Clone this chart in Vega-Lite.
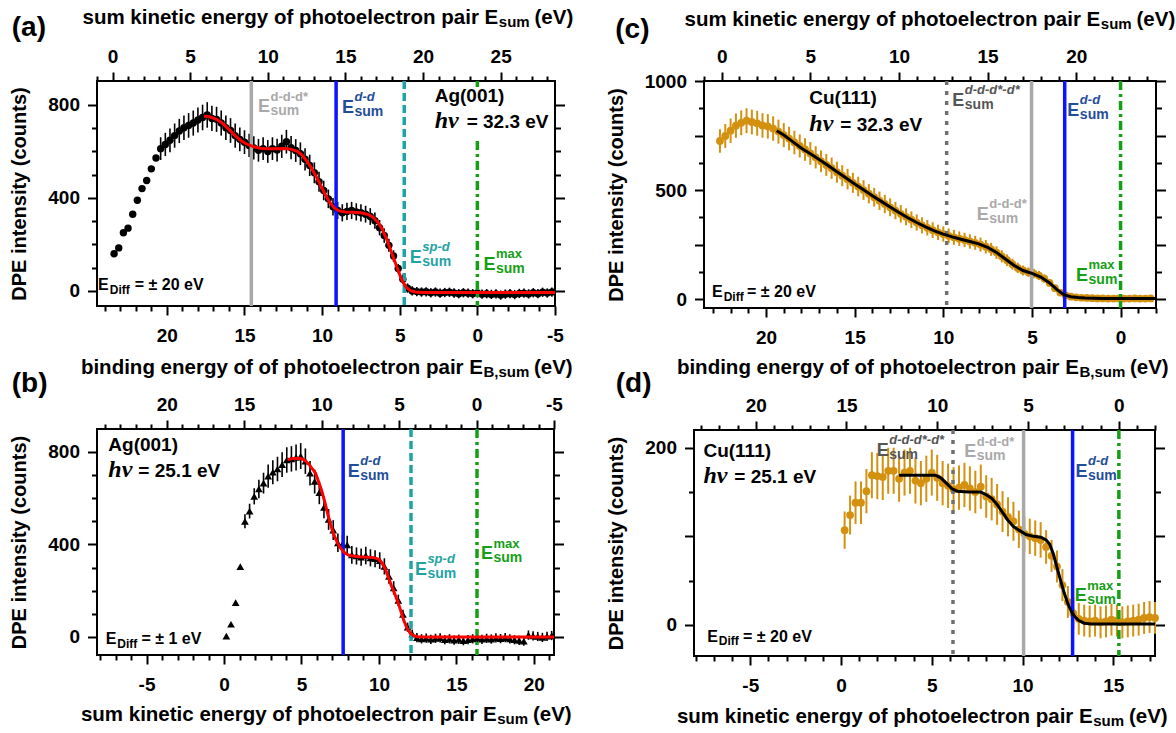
{
"$schema": "https://vega.github.io/schema/vega-lite/v6.json",
"background": "white",
"padding": {"left": 8, "top": 6, "right": 0, "bottom": 0},
"config": {
  "font": "Liberation Sans",
  "view": {"stroke": "black", "strokeWidth": 2},
  "axis": {"domain": false, "grid": false, "labelFont": "Liberation Sans", "labelFontSize": 19, "labelFontWeight": "bold", "labelColor": "black", "tickColor": "black", "tickWidth": 2, "titleFont": "Liberation Sans", "titleFontSize": 20.5, "titleFontWeight": "bold", "titleColor": "black", "labelFlush": false, "labelOverlap": false},
  "title": {"anchor": "start", "frame": "bounds", "font": "Liberation Sans", "fontSize": 28, "fontWeight": "bold", "color": "black", "baseline": "alphabetic"},
  "text": {"font": "Liberation Sans", "fontWeight": "bold", "color": "black", "align": "left", "baseline": "alphabetic"}
},
"datasets": {
  "a_pts": [
    {"x":23.4,"y":160,"e":0},{"x":23.1,"y":185,"e":0},{"x":22.8,"y":250,"e":0},{"x":22.5,"y":270,"e":0},{"x":22.2,"y":330,"e":0},{"x":21.9,"y":390,"e":0},{"x":21.6,"y":440,"e":0},{"x":21.3,"y":475,"e":0},{"x":21.0,"y":525,"e":0},{"x":20.7,"y":572,"e":0},
    {"x":20.4,"y":612,"e":49},{"x":20.1,"y":630,"e":50},{"x":19.8,"y":648,"e":51},{"x":19.5,"y":668,"e":52},{"x":19.2,"y":688,"e":52},{"x":18.9,"y":702,"e":53},{"x":18.6,"y":712,"e":53},{"x":18.3,"y":722,"e":54},{"x":18.0,"y":735,"e":54},{"x":17.7,"y":746,"e":55},
    {"x":17.4,"y":757,"e":55},{"x":17.1,"y":742,"e":54},{"x":16.8,"y":738,"e":54},{"x":16.5,"y":722,"e":54},{"x":16.2,"y":702,"e":53},{"x":15.9,"y":690,"e":53},{"x":15.6,"y":668,"e":52},{"x":15.3,"y":652,"e":51},{"x":15.0,"y":640,"e":51},{"x":14.7,"y":626,"e":50},
    {"x":14.4,"y":615,"e":50},{"x":14.1,"y":605,"e":49},{"x":13.8,"y":612,"e":49},{"x":13.5,"y":600,"e":49},{"x":13.2,"y":612,"e":49},{"x":12.9,"y":606,"e":49},{"x":12.6,"y":622,"e":50},{"x":12.3,"y":642,"e":51},{"x":12.0,"y":616,"e":50},{"x":11.7,"y":604,"e":49},
    {"x":11.4,"y":590,"e":49},{"x":11.1,"y":566,"e":48},{"x":10.8,"y":540,"e":46},{"x":10.5,"y":508,"e":45},{"x":10.2,"y":470,"e":43},{"x":9.9,"y":432,"e":42},{"x":9.6,"y":396,"e":40},{"x":9.3,"y":362,"e":38},{"x":9.0,"y":346,"e":37},{"x":8.7,"y":336,"e":37},
    {"x":8.4,"y":342,"e":37},{"x":8.1,"y":346,"e":37},{"x":7.8,"y":340,"e":37},{"x":7.5,"y":336,"e":37},{"x":7.2,"y":330,"e":36},{"x":6.9,"y":320,"e":36},{"x":6.6,"y":302,"e":35},{"x":6.3,"y":272,"e":33},{"x":6.0,"y":238,"e":31},{"x":5.7,"y":196,"e":28},
    {"x":5.4,"y":150,"e":25},{"x":5.1,"y":96,"e":20},{"x":4.8,"y":50,"e":20},{"x":4.5,"y":12,"e":20},{"x":4.2,"y":0,"e":20},{"x":3.9,"y":-3,"e":20},{"x":3.6,"y":-5,"e":20},{"x":3.3,"y":-4,"e":20},{"x":3.0,"y":-8,"e":20},{"x":2.7,"y":-5,"e":20},
    {"x":2.4,"y":-10,"e":20},{"x":2.1,"y":-7,"e":20},{"x":1.8,"y":-6,"e":20},{"x":1.5,"y":-9,"e":20},{"x":1.2,"y":-12,"e":20},{"x":0.9,"y":-8,"e":20},{"x":0.6,"y":-10,"e":20},{"x":0.3,"y":-12,"e":20},{"x":0.0,"y":-9,"e":20},{"x":-0.3,"y":-14,"e":20},
    {"x":-0.6,"y":-12,"e":20},{"x":-0.9,"y":-15,"e":20},{"x":-1.2,"y":-13,"e":20},{"x":-1.5,"y":-18,"e":20},{"x":-1.8,"y":-14,"e":20},{"x":-2.1,"y":-12,"e":20},{"x":-2.4,"y":-16,"e":20},{"x":-2.7,"y":-11,"e":20},{"x":-3.0,"y":-10,"e":20},{"x":-3.3,"y":-13,"e":20},
    {"x":-3.6,"y":-8,"e":20},{"x":-3.9,"y":-12,"e":20},{"x":-4.2,"y":-6,"e":20},{"x":-4.5,"y":-9,"e":20},{"x":-4.8,"y":-5,"e":20}
  ],
  "a_fit": [
    {"x":17.6,"y":752},{"x":17.2,"y":748},{"x":16.8,"y":738},{"x":16.4,"y":720},{"x":16.0,"y":695},{"x":15.6,"y":668},{"x":15.2,"y":645},{"x":14.8,"y":630},{"x":14.4,"y":620},{"x":14.0,"y":614},
    {"x":13.5,"y":611},{"x":13.0,"y":611},{"x":12.5,"y":613},{"x":12.0,"y":610},{"x":11.6,"y":600},{"x":11.3,"y":585},{"x":11.0,"y":560},{"x":10.7,"y":530},{"x":10.4,"y":495},{"x":10.1,"y":455},
    {"x":9.8,"y":415},{"x":9.5,"y":380},{"x":9.2,"y":356},{"x":8.9,"y":344},{"x":8.5,"y":339},{"x":8.0,"y":338},{"x":7.5,"y":336},{"x":7.0,"y":328},{"x":6.7,"y":316},{"x":6.4,"y":295},
    {"x":6.1,"y":262},{"x":5.8,"y":215},{"x":5.5,"y":160},{"x":5.2,"y":105},{"x":4.9,"y":52},{"x":4.6,"y":16},{"x":4.3,"y":1},{"x":4.0,"y":-5},{"x":3.5,"y":-7},{"x":2.0,"y":-7},{"x":0,"y":-7},{"x":-2,"y":-7},{"x":-5,"y":-7}
  ],
  "a_vl": [{"x":14.56,"k":"ddd"},{"x":9.1,"k":"dd"},{"x":4.71,"k":"sp"},{"x":0,"k":"max"}],
  "a_lab": [{"x":14.13,"y":768,"k":"ddd","s":"d-d-d*"},{"x":8.72,"y":766,"k":"dd","s":"d-d"},{"x":4.35,"y":122,"k":"sp","s":"sp-d"},{"x":-0.39,"y":90,"k":"max","s":"max"}],
  "b_pts": [
    {"x":0.15,"y":4,"e":0},{"x":0.45,"y":55,"e":0},{"x":0.75,"y":148,"e":0},{"x":1.05,"y":304,"e":0},{"x":1.35,"y":500,"e":30},{"x":1.65,"y":544,"e":32},{"x":1.95,"y":608,"e":35},{"x":2.25,"y":640,"e":40},{"x":2.55,"y":665,"e":45},{"x":2.85,"y":695,"e":50},
    {"x":3.15,"y":712,"e":52},{"x":3.45,"y":726,"e":53},{"x":3.75,"y":745,"e":54},{"x":4.05,"y":765,"e":55},{"x":4.35,"y":770,"e":55},{"x":4.65,"y":776,"e":56},{"x":4.95,"y":782,"e":56},{"x":5.25,"y":760,"e":55},{"x":5.55,"y":708,"e":53},{"x":5.85,"y":672,"e":52},
    {"x":6.15,"y":624,"e":50},{"x":6.45,"y":560,"e":47},{"x":6.75,"y":508,"e":45},{"x":7.05,"y":462,"e":43},{"x":7.35,"y":407,"e":40},{"x":7.65,"y":400,"e":40},{"x":7.95,"y":398,"e":40},{"x":8.25,"y":355,"e":38},{"x":8.55,"y":350,"e":37},{"x":8.85,"y":345,"e":37},
    {"x":9.15,"y":352,"e":38},{"x":9.45,"y":342,"e":37},{"x":9.75,"y":338,"e":37},{"x":10.05,"y":330,"e":36},{"x":10.35,"y":305,"e":35},{"x":10.65,"y":262,"e":32},{"x":10.95,"y":212,"e":29},{"x":11.25,"y":158,"e":25},{"x":11.55,"y":98,"e":20},{"x":11.85,"y":42,"e":20},
    {"x":12.15,"y":12,"e":20},{"x":12.45,"y":-3,"e":20},{"x":12.75,"y":-8,"e":20},{"x":13.05,"y":-5,"e":20},{"x":13.35,"y":-10,"e":20},{"x":13.65,"y":-6,"e":20},{"x":13.95,"y":-4,"e":20},{"x":14.25,"y":-12,"e":20},{"x":14.55,"y":-8,"e":20},{"x":14.85,"y":-14,"e":20},
    {"x":15.15,"y":-10,"e":20},{"x":15.45,"y":-16,"e":20},{"x":15.75,"y":-12,"e":20},{"x":16.05,"y":-8,"e":20},{"x":16.35,"y":-5,"e":20},{"x":16.65,"y":-10,"e":20},{"x":16.95,"y":-6,"e":20},{"x":17.25,"y":-9,"e":20},{"x":17.55,"y":-4,"e":20},{"x":17.85,"y":-7,"e":20},
    {"x":18.15,"y":-3,"e":20},{"x":18.45,"y":-8,"e":20},{"x":18.75,"y":-12,"e":20},{"x":19.05,"y":-15,"e":20},{"x":19.35,"y":-18,"e":20},{"x":19.65,"y":8,"e":20},{"x":19.95,"y":5,"e":20},{"x":20.25,"y":2,"e":20},{"x":20.55,"y":-2,"e":20},{"x":20.85,"y":3,"e":20},{"x":21.15,"y":6,"e":20}
  ],
  "b_fit": [
    {"x":4.1,"y":767},{"x":4.5,"y":772},{"x":4.9,"y":773},{"x":5.2,"y":765},{"x":5.5,"y":745},{"x":5.7,"y":727},{"x":5.9,"y":709},{"x":6.1,"y":672},{"x":6.3,"y":633},{"x":6.5,"y":585},
    {"x":6.7,"y":530},{"x":6.9,"y":480},{"x":7.1,"y":440},{"x":7.3,"y":410},{"x":7.5,"y":386},{"x":7.8,"y":363},{"x":8.1,"y":352},{"x":8.7,"y":347},{"x":9.7,"y":343},{"x":10.0,"y":335},
    {"x":10.2,"y":320},{"x":10.4,"y":295},{"x":10.6,"y":260},{"x":10.8,"y":222},{"x":11.0,"y":190},{"x":11.2,"y":155},{"x":11.4,"y":115},{"x":11.6,"y":72},{"x":11.8,"y":40},{"x":12.0,"y":18},
    {"x":12.2,"y":7},{"x":12.5,"y":1},{"x":13.0,"y":0},{"x":21.3,"y":0}
  ],
  "b_vl": [{"x":7.69,"k":"dd"},{"x":12.07,"k":"sp"},{"x":16.33,"k":"max"}],
  "b_lab": [{"x":7.98,"y":692,"k":"dd","s":"d-d"},{"x":12.32,"y":270,"k":"sp","s":"sp-d"},{"x":16.58,"y":335,"k":"max","s":"max"}],
  "c_pts": [
    {"x":22.6,"y":725,"e":54},{"x":22.3,"y":748,"e":55},{"x":22.0,"y":772,"e":56},{"x":21.7,"y":795,"e":56},{"x":21.4,"y":808,"e":57},{"x":21.1,"y":818,"e":57},{"x":20.8,"y":812,"e":57},{"x":20.5,"y":806,"e":57},{"x":20.2,"y":796,"e":56},{"x":19.9,"y":792,"e":56},
    {"x":19.6,"y":782,"e":56},{"x":19.3,"y":768,"e":55},{"x":19.0,"y":752,"e":55},{"x":18.7,"y":736,"e":54},{"x":18.4,"y":718,"e":54},{"x":18.1,"y":702,"e":53},{"x":17.8,"y":686,"e":52},{"x":17.5,"y":668,"e":52},{"x":17.2,"y":650,"e":51},{"x":16.9,"y":632,"e":50},
    {"x":16.6,"y":615,"e":50},{"x":16.3,"y":600,"e":49},{"x":16.0,"y":582,"e":48},{"x":15.7,"y":566,"e":48},{"x":15.4,"y":550,"e":47},{"x":15.1,"y":533,"e":46},{"x":14.8,"y":516,"e":45},{"x":14.5,"y":500,"e":45},{"x":14.2,"y":483,"e":44},{"x":13.9,"y":467,"e":43},
    {"x":13.6,"y":451,"e":42},{"x":13.3,"y":436,"e":42},{"x":13.0,"y":421,"e":41},{"x":12.7,"y":406,"e":40},{"x":12.4,"y":391,"e":40},{"x":12.1,"y":377,"e":39},{"x":11.8,"y":364,"e":38},{"x":11.5,"y":351,"e":37},{"x":11.2,"y":338,"e":37},{"x":10.9,"y":327,"e":36},
    {"x":10.6,"y":316,"e":36},{"x":10.3,"y":306,"e":35},{"x":10.0,"y":298,"e":35},{"x":9.7,"y":290,"e":34},{"x":9.4,"y":283,"e":34},{"x":9.1,"y":277,"e":33},{"x":8.8,"y":271,"e":33},{"x":8.5,"y":264,"e":33},{"x":8.2,"y":258,"e":32},{"x":7.9,"y":250,"e":32},
    {"x":7.6,"y":240,"e":31},{"x":7.3,"y":228,"e":30},{"x":7.0,"y":213,"e":29},{"x":6.7,"y":196,"e":28},{"x":6.4,"y":178,"e":27},{"x":6.1,"y":160,"e":25},{"x":5.8,"y":143,"e":24},{"x":5.5,"y":131,"e":23},{"x":5.2,"y":123,"e":22},{"x":4.9,"y":117,"e":22},
    {"x":4.6,"y":108,"e":21},{"x":4.3,"y":94,"e":19},{"x":4.0,"y":74,"e":17},{"x":3.7,"y":50,"e":15},{"x":3.4,"y":30,"e":15},{"x":3.1,"y":17,"e":15},{"x":2.8,"y":11,"e":15},{"x":2.5,"y":8,"e":15},{"x":2.2,"y":6,"e":15},{"x":1.9,"y":5,"e":15},
    {"x":1.6,"y":4,"e":15},{"x":1.3,"y":3,"e":15},{"x":1.0,"y":3,"e":15},{"x":0.7,"y":2,"e":15},{"x":0.4,"y":2,"e":15},{"x":0.1,"y":3,"e":15},{"x":-0.2,"y":2,"e":15},{"x":-0.5,"y":2,"e":15},{"x":-0.8,"y":3,"e":15},{"x":-1.1,"y":2,"e":15},
    {"x":-1.4,"y":2,"e":15},{"x":-1.7,"y":3,"e":15}
  ],
  "c_fit": [
    {"x":19.4,"y":772},{"x":19.0,"y":752},{"x":18.5,"y":722},{"x":18.0,"y":692},{"x":17.5,"y":666},{"x":17.0,"y":640},{"x":16.5,"y":612},{"x":16.0,"y":584},{"x":15.5,"y":556},{"x":15.0,"y":528},
    {"x":14.5,"y":501},{"x":14.0,"y":474},{"x":13.5,"y":448},{"x":13.0,"y":422},{"x":12.5,"y":397},{"x":12.0,"y":373},{"x":11.5,"y":351},{"x":11.0,"y":331},{"x":10.5,"y":313},{"x":10.0,"y":298},
    {"x":9.5,"y":285},{"x":9.0,"y":274},{"x":8.5,"y":264},{"x":8.0,"y":253},{"x":7.5,"y":237},{"x":7.0,"y":214},{"x":6.5,"y":184},{"x":6.0,"y":154},{"x":5.5,"y":131},{"x":5.0,"y":118},
    {"x":4.5,"y":101},{"x":4.0,"y":74},{"x":3.6,"y":44},{"x":3.2,"y":20},{"x":2.8,"y":11},{"x":2.4,"y":7},{"x":2.0,"y":5},{"x":1.0,"y":3},{"x":0,"y":2},{"x":-2,"y":2}
  ],
  "c_vl": [{"x":9.81,"k":"dddd"},{"x":5.02,"k":"ddd"},{"x":3.15,"k":"dd"},{"x":0,"k":"max"}],
  "c_lab": [{"x":9.49,"y":887,"k":"dddd","s":"d-d-d*-d*"},{"x":8.11,"y":364,"k":"ddd","s":"d-d-d*"},{"x":3.0,"y":841,"k":"dd","s":"d-d"},{"x":2.51,"y":84,"k":"max","s":"max"}],
  "d_pts": [
    {"x":0.2,"y":107,"e":21},{"x":0.5,"y":124,"e":22},{"x":0.8,"y":138,"e":24},{"x":1.1,"y":138,"e":24},{"x":1.4,"y":151,"e":25},{"x":1.7,"y":169,"e":26},{"x":2.0,"y":168,"e":26},{"x":2.3,"y":167,"e":26},{"x":2.6,"y":174,"e":26},{"x":2.9,"y":174,"e":26},
    {"x":3.2,"y":165,"e":26},{"x":3.5,"y":172,"e":26},{"x":3.8,"y":174,"e":26},{"x":4.1,"y":163,"e":26},{"x":4.4,"y":160,"e":25},{"x":4.7,"y":165,"e":26},{"x":5.0,"y":172,"e":26},{"x":5.3,"y":166,"e":26},{"x":5.6,"y":160,"e":25},{"x":5.9,"y":157,"e":25},
    {"x":6.2,"y":153,"e":25},{"x":6.5,"y":155,"e":25},{"x":6.8,"y":158,"e":25},{"x":7.1,"y":154,"e":25},{"x":7.4,"y":150,"e":24},{"x":7.7,"y":156,"e":25},{"x":8.0,"y":145,"e":24},{"x":8.3,"y":142,"e":24},{"x":8.6,"y":136,"e":23},{"x":8.9,"y":128,"e":23},
    {"x":9.2,"y":122,"e":22},{"x":9.5,"y":117,"e":22},{"x":9.8,"y":108,"e":21},{"x":10.1,"y":103,"e":20},{"x":10.4,"y":100,"e":20},{"x":10.7,"y":98,"e":20},{"x":11.0,"y":96,"e":20},{"x":11.3,"y":88,"e":19},{"x":11.6,"y":78,"e":18},{"x":11.9,"y":66,"e":18},
    {"x":12.2,"y":45,"e":18},{"x":12.5,"y":26,"e":18},{"x":12.8,"y":13,"e":18},{"x":13.1,"y":7,"e":18},{"x":13.4,"y":5,"e":18},{"x":13.7,"y":4,"e":18},{"x":14.0,"y":5,"e":18},{"x":14.3,"y":3,"e":18},{"x":14.6,"y":4,"e":18},{"x":14.9,"y":6,"e":18},
    {"x":15.2,"y":5,"e":18},{"x":15.5,"y":3,"e":18},{"x":15.8,"y":4,"e":18},{"x":16.1,"y":5,"e":18},{"x":16.4,"y":6,"e":18},{"x":16.7,"y":8,"e":18},{"x":17.0,"y":9,"e":18},{"x":17.3,"y":8,"e":18}
  ],
  "d_fit": [
    {"x":3.2,"y":169},{"x":5.2,"y":169},{"x":5.5,"y":166},{"x":5.8,"y":160},{"x":6.1,"y":154},{"x":6.4,"y":151},{"x":7.0,"y":150},{"x":7.7,"y":150},{"x":8.0,"y":147},{"x":8.3,"y":143},
    {"x":8.6,"y":136},{"x":8.9,"y":127},{"x":9.2,"y":118},{"x":9.5,"y":111},{"x":9.8,"y":107},{"x":10.2,"y":102},{"x":10.6,"y":100},{"x":11.0,"y":99},{"x":11.3,"y":96},{"x":11.5,"y":91},
    {"x":11.7,"y":80},{"x":11.9,"y":65},{"x":12.1,"y":50},{"x":12.3,"y":36},{"x":12.5,"y":24},{"x":12.7,"y":15},{"x":12.9,"y":9},{"x":13.1,"y":5},{"x":13.4,"y":2},{"x":13.8,"y":1},{"x":17.3,"y":1}
  ],
  "d_vl": [{"x":6.17,"k":"dddd"},{"x":10.06,"k":"ddd"},{"x":12.76,"k":"dd"},{"x":15.31,"k":"max"}],
  "d_lab": [{"x":1.97,"y":191,"k":"dddd","s":"d-d-d*-d*"},{"x":6.79,"y":189,"k":"ddd","s":"d-d-d*"},{"x":12.92,"y":167,"k":"dd","s":"d-d"},{"x":12.88,"y":27,"k":"max","s":"max"}]
},
"concat": [
{
  "width": 458, "height": 225,
  "title": {"text": "(a)", "offset": -35, "dx": 2},
  "resolve": {"scale": {"x": "independent", "y": "independent"}},
  "layer": [
    {"data": {"values": [{"u": 0}]}, "mark": {"type": "point", "opacity": 0},
      "encoding": {
        "x": {"field": "u", "type": "quantitative", "axis": null},
        "y": {"field": "u", "type": "quantitative", "scale": {"domain": [-65, 903], "nice": false, "zero": false},
          "axis": {"orient": "left", "values": [0,100,200,300,400,500,600,700,800], "labelExpr": "datum.value % 400 === 0 ? '' + datum.value : ''", "tickSize": {"condition": {"test": "datum.value % 400 === 0", "value": 9.5}, "value": 5.5}, "labelPadding": 8, "title": "DPE intensity (counts)", "titleFontSize": 20, "titlePadding": 18}}}},
    {
      "resolve": {"scale": {"color": "independent"}},
      "encoding": {"x": {"field": "x", "type": "quantitative", "scale": {"domain": [-5, 24.5], "reverse": true, "nice": false, "zero": false},
        "axis": {"orient": "bottom", "values": [-5,-4,-3,-2,-1,0,1,2,3,4,5,6,7,8,9,10,11,12,13,14,15,16,17,18,19,20,21,22,23,24], "labelExpr": "datum.value % 5 === 0 ? '' + datum.value : ''", "tickSize": {"condition": {"test": "datum.value % 5 === 0", "value": 9}, "value": 5}, "labelPadding": 11, "title": null}}},
      "layer": [
        {"data": {"name": "a_pts"}, "mark": {"type": "errorbar", "color": "black", "thickness": 1.6}, "encoding": {"y": {"field": "y", "type": "quantitative", "axis": null, "scale": {"domain": [-65, 903], "nice": false, "zero": false}}, "yError": {"field": "e"}}},
        {"data": {"name": "a_pts"}, "mark": {"type": "point", "shape": "circle", "filled": true, "size": 55, "color": "black", "opacity": 1}, "encoding": {"y": {"field": "y", "type": "quantitative", "axis": null}}},
        {"data": {"name": "a_vl"}, "mark": {"type": "rule", "strokeWidth": 3.5},
          "encoding": {"color": {"field": "k", "type": "nominal", "legend": null, "scale": {"domain": ["ddd","dd","sp","max","dddd"], "range": ["#a9a9a9","#0a14ff","#1fa3a3","#14a014","#707070"]}},
            "strokeDash": {"field": "k", "type": "nominal", "legend": null, "scale": {"domain": ["ddd","dd","sp","max","dddd"], "range": [[1,0],[1,0],[8,4],[9,4,3,4],[4,6]]}}}},
        {"data": {"values": [{"x": 3.0, "x2": -0.9, "y": 877, "y2": 660}]}, "mark": {"type": "rect", "color": "white", "opacity": 1}, "encoding": {"x2": {"field": "x2"}, "y": {"field": "y", "type": "quantitative", "axis": null}, "y2": {"field": "y2"}}},
        {"data": {"name": "a_fit"}, "mark": {"type": "line", "color": "#ff0000", "strokeWidth": 3}, "encoding": {"y": {"field": "y", "type": "quantitative", "axis": null}}},
        {"data": {"name": "a_lab"},
          "encoding": {"y": {"field": "y", "type": "quantitative", "axis": null}, "color": {"field": "k", "type": "nominal", "legend": null, "scale": {"domain": ["ddd","dd","sp","max","dddd"], "range": ["#a9a9a9","#1f4e9a","#1fa3a3","#14a014","#555555"]}}},
          "layer": [
            {"mark": {"type": "text", "fontSize": 18}, "encoding": {"text": {"value": "E"}}},
            {"mark": {"type": "text", "fontSize": 14, "dx": 12.5, "dy": 3}, "encoding": {"text": {"value": "sum"}}},
            {"transform": [{"filter": "datum.k === 'dd' || datum.k === 'sp' || datum.k === 'dddd'"}], "mark": {"type": "text", "fontSize": 13, "fontStyle": "italic", "dx": 12.5, "dy": -11.5}, "encoding": {"text": {"field": "s"}}},
            {"transform": [{"filter": "datum.k === 'ddd' || datum.k === 'max'"}], "mark": {"type": "text", "fontSize": 13, "dx": 12.5, "dy": -11.5}, "encoding": {"text": {"field": "s"}}}
          ]},
        {"data": {"values": [{"x": 2.75, "y": 814, "t": "Ag(001)"}, {"x": 0.69, "y": 700, "t": "= 32.3 eV"}]}, "mark": {"type": "text", "fontSize": 19}, "encoding": {"y": {"field": "y", "type": "quantitative", "axis": null}, "text": {"field": "t"}}},
        {"data": {"values": [{"x": 2.75, "y": 700, "t": "hν"}]}, "mark": {"type": "text", "fontSize": 24, "font": "Liberation Serif", "fontStyle": "italic"}, "encoding": {"y": {"field": "y", "type": "quantitative", "axis": null}, "text": {"field": "t"}}},
        {"data": {"values": [{"x": 24.43, "y": 4, "t": "E"}, {"x": 22.07, "y": 4, "t": "= ± 20 eV"}]}, "mark": {"type": "text", "fontSize": 16}, "encoding": {"y": {"field": "y", "type": "quantitative", "axis": null}, "text": {"field": "t"}}},
        {"data": {"values": [{"x": 23.68, "y": -13, "t": "Diff"}]}, "mark": {"type": "text", "fontSize": 12}, "encoding": {"y": {"field": "y", "type": "quantitative", "axis": null}, "text": {"field": "t"}}}
      ]
    },
    {"data": {"values": [{"u": 0}]}, "mark": {"type": "point", "opacity": 0},
      "encoding": {
        "x": {"field": "u", "type": "quantitative", "scale": {"domain": [-1, 28.5], "nice": false, "zero": false},
          "axis": {"orient": "top", "values": [-1,0,1,2,3,4,5,6,7,8,9,10,11,12,13,14,15,16,17,18,19,20,21,22,23,24,25,26,27,28], "labelExpr": "datum.value % 5 === 0 ? '' + datum.value : ''", "tickSize": {"condition": {"test": "datum.value % 5 === 0", "value": 9}, "value": 5}, "labelPadding": 6,
            "title": "sum kinetic energy of photoelectron pair E", "titleX": -15, "titleY": -58, "titleAlign": "left", "titleBaseline": "alphabetic"}},
        "y": {"field": "u", "type": "quantitative", "scale": {"domain": [-65, 903], "nice": false, "zero": false},
          "axis": {"orient": "right", "values": [0,100,200,300,400,500,600,700,800], "labels": false, "tickSize": {"condition": {"test": "datum.value % 400 === 0", "value": 9.5}, "value": 5.5}, "title": null}}}},
    {"data": {"values": [{"u": 0}]}, "mark": {"type": "point", "opacity": 0},
      "encoding": {
        "x": {"field": "u", "type": "quantitative", "scale": {"domain": [0, 1]}, "axis": {"orient": "top", "ticks": false, "labels": false, "domain": false, "title": "sum", "titleFontSize": 15, "titleX": 401.3, "titleY": -54.5, "titleAlign": "left", "titleBaseline": "alphabetic"}},
        "y": {"field": "u", "type": "quantitative", "axis": null}}},
    {"data": {"values": [{"u": 0}]}, "mark": {"type": "point", "opacity": 0},
      "encoding": {
        "x": {"field": "u", "type": "quantitative", "scale": {"domain": [0, 1]}, "axis": {"orient": "top", "ticks": false, "labels": false, "domain": false, "title": "(eV)", "titleX": 437, "titleY": -58, "titleAlign": "left", "titleBaseline": "alphabetic"}},
        "y": {"field": "u", "type": "quantitative", "axis": null}}}
  ]
},
{
  "width": 452, "height": 227,
  "title": {"text": "(c)", "offset": -35, "dx": 9},
  "resolve": {"scale": {"x": "independent", "y": "independent"}},
  "layer": [
    {"data": {"values": [{"u": 0}]}, "mark": {"type": "point", "opacity": 0},
      "encoding": {
        "x": {"field": "u", "type": "quantitative", "axis": null},
        "y": {"field": "u", "type": "quantitative", "scale": {"domain": [-41, 1000], "nice": false, "zero": false},
          "axis": {"orient": "left", "values": [0,125,250,375,500,625,750,875,1000], "labelExpr": "datum.value % 500 === 0 ? '' + datum.value : ''", "tickSize": {"condition": {"test": "datum.value % 250 === 0", "value": 9.5}, "value": 5.5}, "labelPadding": 8, "title": "DPE intensity (counts)", "titleFontSize": 20, "titlePadding": 18}}}},
    {
      "resolve": {"scale": {"color": "independent"}},
      "encoding": {"x": {"field": "x", "type": "quantitative", "scale": {"domain": [-2, 23.5], "reverse": true, "nice": false, "zero": false},
        "axis": {"orient": "bottom", "values": [-2,-1,0,1,2,3,4,5,6,7,8,9,10,11,12,13,14,15,16,17,18,19,20,21,22,23], "labelExpr": "datum.value % 5 === 0 ? '' + datum.value : ''", "tickSize": {"condition": {"test": "datum.value % 5 === 0", "value": 9}, "value": 5}, "labelPadding": 11, "title": null}}},
      "layer": [
        {"data": {"name": "c_pts"}, "mark": {"type": "errorbar", "color": "#d4900f", "thickness": 2}, "encoding": {"y": {"field": "y", "type": "quantitative", "axis": null, "scale": {"domain": [-41, 1000], "nice": false, "zero": false}}, "yError": {"field": "e"}}},
        {"data": {"name": "c_pts"}, "mark": {"type": "point", "shape": "circle", "filled": true, "size": 60, "color": "#d4900f", "opacity": 1}, "encoding": {"y": {"field": "y", "type": "quantitative", "axis": null}}},
        {"data": {"name": "c_vl"}, "mark": {"type": "rule", "strokeWidth": 3.5},
          "encoding": {"color": {"field": "k", "type": "nominal", "legend": null, "scale": {"domain": ["ddd","dd","sp","max","dddd"], "range": ["#a9a9a9","#0a14ff","#1fa3a3","#14a014","#707070"]}},
            "strokeDash": {"field": "k", "type": "nominal", "legend": null, "scale": {"domain": ["ddd","dd","sp","max","dddd"], "range": [[1,0],[1,0],[8,4],[9,4,3,4],[4,6]]}}}},
        {"data": {"name": "c_fit"}, "mark": {"type": "line", "color": "black", "strokeWidth": 3}, "encoding": {"y": {"field": "y", "type": "quantitative", "axis": null}}},
        {"data": {"name": "c_lab"},
          "encoding": {"y": {"field": "y", "type": "quantitative", "axis": null}, "color": {"field": "k", "type": "nominal", "legend": null, "scale": {"domain": ["ddd","dd","sp","max","dddd"], "range": ["#a9a9a9","#1f4e9a","#1fa3a3","#14a014","#555555"]}}},
          "layer": [
            {"mark": {"type": "text", "fontSize": 18}, "encoding": {"text": {"value": "E"}}},
            {"mark": {"type": "text", "fontSize": 14, "dx": 12.5, "dy": 3}, "encoding": {"text": {"value": "sum"}}},
            {"transform": [{"filter": "datum.k === 'dd' || datum.k === 'sp' || datum.k === 'dddd'"}], "mark": {"type": "text", "fontSize": 13, "fontStyle": "italic", "dx": 12.5, "dy": -11.5}, "encoding": {"text": {"field": "s"}}},
            {"transform": [{"filter": "datum.k === 'ddd' || datum.k === 'max'"}], "mark": {"type": "text", "fontSize": 13, "dx": 12.5, "dy": -11.5}, "encoding": {"text": {"field": "s"}}}
          ]},
        {"data": {"values": [{"x": 17.56, "y": 894, "t": "Cu(111)"}, {"x": 15.81, "y": 772, "t": "= 32.3 eV"}]}, "mark": {"type": "text", "fontSize": 19}, "encoding": {"y": {"field": "y", "type": "quantitative", "axis": null}, "text": {"field": "t"}}},
        {"data": {"values": [{"x": 17.56, "y": 772, "t": "hν"}]}, "mark": {"type": "text", "fontSize": 24, "font": "Liberation Serif", "fontStyle": "italic"}, "encoding": {"y": {"field": "y", "type": "quantitative", "axis": null}, "text": {"field": "t"}}},
        {"data": {"values": [{"x": 23.05, "y": 8, "t": "E"}, {"x": 21.07, "y": 8, "t": "= ± 20 eV"}]}, "mark": {"type": "text", "fontSize": 16}, "encoding": {"y": {"field": "y", "type": "quantitative", "axis": null}, "text": {"field": "t"}}},
        {"data": {"values": [{"x": 22.39, "y": -8, "t": "Diff"}]}, "mark": {"type": "text", "fontSize": 12}, "encoding": {"y": {"field": "y", "type": "quantitative", "axis": null}, "text": {"field": "t"}}}
      ]
    },
    {"data": {"values": [{"u": 0}]}, "mark": {"type": "point", "opacity": 0},
      "encoding": {
        "x": {"field": "u", "type": "quantitative", "scale": {"domain": [-1, 24.5], "nice": false, "zero": false},
          "axis": {"orient": "top", "values": [-1,0,1,2,3,4,5,6,7,8,9,10,11,12,13,14,15,16,17,18,19,20,21,22,23,24], "labelExpr": "datum.value % 5 === 0 ? '' + datum.value : ''", "tickSize": {"condition": {"test": "datum.value % 5 === 0", "value": 9}, "value": 5}, "labelPadding": 6,
            "title": "sum kinetic energy of photoelectron pair E", "titleX": -20, "titleY": -56, "titleAlign": "left", "titleBaseline": "alphabetic"}},
        "y": {"field": "u", "type": "quantitative", "scale": {"domain": [-41, 1000], "nice": false, "zero": false},
          "axis": {"orient": "right", "values": [0,125,250,375,500,625,750,875,1000], "labels": false, "tickSize": {"condition": {"test": "datum.value % 250 === 0", "value": 9.5}, "value": 5.5}, "title": null}}}},
    {"data": {"values": [{"u": 0}]}, "mark": {"type": "point", "opacity": 0},
      "encoding": {
        "x": {"field": "u", "type": "quantitative", "scale": {"domain": [0, 1]}, "axis": {"orient": "top", "ticks": false, "labels": false, "domain": false, "title": "sum", "titleFontSize": 15, "titleX": 396.3, "titleY": -52.5, "titleAlign": "left", "titleBaseline": "alphabetic"}},
        "y": {"field": "u", "type": "quantitative", "axis": null}}},
    {"data": {"values": [{"u": 0}]}, "mark": {"type": "point", "opacity": 0},
      "encoding": {
        "x": {"field": "u", "type": "quantitative", "scale": {"domain": [0, 1]}, "axis": {"orient": "top", "ticks": false, "labels": false, "domain": false, "title": "(eV)", "titleX": 432, "titleY": -56, "titleAlign": "left", "titleBaseline": "alphabetic"}},
        "y": {"field": "u", "type": "quantitative", "axis": null}}}
  ]
},
{
  "width": 457, "height": 226,
  "title": {"text": "(b)", "offset": -41, "dx": 2},
  "resolve": {"scale": {"x": "independent", "y": "independent"}},
  "layer": [
    {"data": {"values": [{"u": 0}]}, "mark": {"type": "point", "opacity": 0},
      "encoding": {
        "x": {"field": "u", "type": "quantitative", "axis": null},
        "y": {"field": "u", "type": "quantitative", "scale": {"domain": [-78, 899], "nice": false, "zero": false},
          "axis": {"orient": "left", "values": [0,100,200,300,400,500,600,700,800], "labelExpr": "datum.value % 400 === 0 ? '' + datum.value : ''", "tickSize": {"condition": {"test": "datum.value % 400 === 0", "value": 9.5}, "value": 5.5}, "labelPadding": 8, "title": "DPE intensity (counts)", "titleFontSize": 20, "titlePadding": 18}}}},
    {
      "resolve": {"scale": {"color": "independent"}},
      "encoding": {"x": {"field": "x", "type": "quantitative", "scale": {"domain": [-8.2, 21.3], "nice": false, "zero": false},
        "axis": {"orient": "bottom", "values": [-8,-7,-6,-5,-4,-3,-2,-1,0,1,2,3,4,5,6,7,8,9,10,11,12,13,14,15,16,17,18,19,20,21], "labelExpr": "datum.value % 5 === 0 ? '' + datum.value : ''", "tickSize": {"condition": {"test": "datum.value % 5 === 0", "value": 9}, "value": 5}, "labelPadding": 11,
          "title": "sum kinetic energy of photoelectron pair E", "titleX": -16.6, "titleY": 65.3, "titleAlign": "left", "titleBaseline": "alphabetic"}}},
      "layer": [
        {"data": {"name": "b_pts"}, "mark": {"type": "errorbar", "color": "black", "thickness": 1.6}, "encoding": {"y": {"field": "y", "type": "quantitative", "axis": null, "scale": {"domain": [-78, 899], "nice": false, "zero": false}}, "yError": {"field": "e"}}},
        {"data": {"name": "b_pts"}, "mark": {"type": "point", "shape": "triangle-up", "filled": true, "size": 60, "color": "black", "opacity": 1}, "encoding": {"y": {"field": "y", "type": "quantitative", "axis": null}}},
        {"data": {"name": "b_vl"}, "mark": {"type": "rule", "strokeWidth": 3.5},
          "encoding": {"color": {"field": "k", "type": "nominal", "legend": null, "scale": {"domain": ["ddd","dd","sp","max","dddd"], "range": ["#a9a9a9","#0a14ff","#1fa3a3","#14a014","#707070"]}},
            "strokeDash": {"field": "k", "type": "nominal", "legend": null, "scale": {"domain": ["ddd","dd","sp","max","dddd"], "range": [[1,0],[1,0],[8,4],[9,4,3,4],[4,6]]}}}},
        {"data": {"name": "b_fit"}, "mark": {"type": "line", "color": "#ff0000", "strokeWidth": 3}, "encoding": {"y": {"field": "y", "type": "quantitative", "axis": null}}},
        {"data": {"name": "b_lab"},
          "encoding": {"y": {"field": "y", "type": "quantitative", "axis": null}, "color": {"field": "k", "type": "nominal", "legend": null, "scale": {"domain": ["ddd","dd","sp","max","dddd"], "range": ["#a9a9a9","#1f4e9a","#1fa3a3","#14a014","#555555"]}}},
          "layer": [
            {"mark": {"type": "text", "fontSize": 18}, "encoding": {"text": {"value": "E"}}},
            {"mark": {"type": "text", "fontSize": 14, "dx": 12.5, "dy": 3}, "encoding": {"text": {"value": "sum"}}},
            {"transform": [{"filter": "datum.k === 'dd' || datum.k === 'sp' || datum.k === 'dddd'"}], "mark": {"type": "text", "fontSize": 13, "fontStyle": "italic", "dx": 12.5, "dy": -11.5}, "encoding": {"text": {"field": "s"}}},
            {"transform": [{"filter": "datum.k === 'ddd' || datum.k === 'max'"}], "mark": {"type": "text", "fontSize": 13, "dx": 12.5, "dy": -11.5}, "encoding": {"text": {"field": "s"}}}
          ]},
        {"data": {"values": [{"x": -7.47, "y": 803, "t": "Ag(001)"}, {"x": -5.53, "y": 692, "t": "= 25.1 eV"}]}, "mark": {"type": "text", "fontSize": 19}, "encoding": {"y": {"field": "y", "type": "quantitative", "axis": null}, "text": {"field": "t"}}},
        {"data": {"values": [{"x": -7.47, "y": 692, "t": "hν"}]}, "mark": {"type": "text", "fontSize": 24, "font": "Liberation Serif", "fontStyle": "italic"}, "encoding": {"y": {"field": "y", "type": "quantitative", "axis": null}, "text": {"field": "t"}}},
        {"data": {"values": [{"x": -7.64, "y": -31, "t": "E"}, {"x": -5.33, "y": -31, "t": "= ± 1 eV"}]}, "mark": {"type": "text", "fontSize": 16}, "encoding": {"y": {"field": "y", "type": "quantitative", "axis": null}, "text": {"field": "t"}}},
        {"data": {"values": [{"x": -6.89, "y": -47, "t": "Diff"}]}, "mark": {"type": "text", "fontSize": 12}, "encoding": {"y": {"field": "y", "type": "quantitative", "axis": null}, "text": {"field": "t"}}}
      ]
    },
    {"data": {"values": [{"u": 0}]}, "mark": {"type": "point", "opacity": 0},
      "encoding": {
        "x": {"field": "u", "type": "quantitative", "scale": {"domain": [-5, 24.5], "reverse": true, "nice": false, "zero": false},
          "axis": {"orient": "top", "values": [-5,-4,-3,-2,-1,0,1,2,3,4,5,6,7,8,9,10,11,12,13,14,15,16,17,18,19,20,21,22,23,24], "labelExpr": "datum.value % 5 === 0 ? '' + datum.value : ''", "tickSize": {"condition": {"test": "datum.value % 5 === 0", "value": 9}, "value": 5}, "labelPadding": 6,
            "title": "binding energy of of photoelectron pair E", "titleX": -16.6, "titleY": -55.8, "titleAlign": "left", "titleBaseline": "alphabetic"}},
        "y": {"field": "u", "type": "quantitative", "scale": {"domain": [-78, 899], "nice": false, "zero": false},
          "axis": {"orient": "right", "values": [0,100,200,300,400,500,600,700,800], "labels": false, "tickSize": {"condition": {"test": "datum.value % 400 === 0", "value": 9.5}, "value": 5.5}, "title": null}}}},
    {"data": {"values": [{"u": 0}]}, "mark": {"type": "point", "opacity": 0},
      "encoding": {
        "x": {"field": "u", "type": "quantitative", "scale": {"domain": [0, 1]}, "axis": {"orient": "top", "ticks": false, "labels": false, "domain": false, "title": "B,sum", "titleFontSize": 15, "titleX": 386, "titleY": -52.3, "titleAlign": "left", "titleBaseline": "alphabetic"}},
        "y": {"field": "u", "type": "quantitative", "axis": null}}},
    {"data": {"values": [{"u": 0}]}, "mark": {"type": "point", "opacity": 0},
      "encoding": {
        "x": {"field": "u", "type": "quantitative", "scale": {"domain": [0, 1]}, "axis": {"orient": "top", "ticks": false, "labels": false, "domain": false, "title": "(eV)", "titleX": 436.4, "titleY": -55.8, "titleAlign": "left", "titleBaseline": "alphabetic"}},
        "y": {"field": "u", "type": "quantitative", "axis": null}}},
    {"data": {"values": [{"u": 0}]}, "mark": {"type": "point", "opacity": 0},
      "encoding": {
        "x": {"field": "u", "type": "quantitative", "scale": {"domain": [0, 1]}, "axis": {"orient": "bottom", "ticks": false, "labels": false, "domain": false, "title": "sum", "titleFontSize": 15, "titleX": 399.7, "titleY": 68.8, "titleAlign": "left", "titleBaseline": "alphabetic"}},
        "y": {"field": "u", "type": "quantitative", "axis": null}}},
    {"data": {"values": [{"u": 0}]}, "mark": {"type": "point", "opacity": 0},
      "encoding": {
        "x": {"field": "u", "type": "quantitative", "scale": {"domain": [0, 1]}, "axis": {"orient": "bottom", "ticks": false, "labels": false, "domain": false, "title": "(eV)", "titleX": 435.4, "titleY": 65.3, "titleAlign": "left", "titleBaseline": "alphabetic"}},
        "y": {"field": "u", "type": "quantitative", "axis": null}}}
  ]
},
{
  "width": 461, "height": 226,
  "title": {"text": "(d)", "offset": -41, "dx": 9},
  "resolve": {"scale": {"x": "independent", "y": "independent"}},
  "layer": [
    {"data": {"values": [{"u": 0}]}, "mark": {"type": "point", "opacity": 0},
      "encoding": {
        "x": {"field": "u", "type": "quantitative", "axis": null},
        "y": {"field": "u", "type": "quantitative", "scale": {"domain": [-35, 220], "nice": false, "zero": false},
          "axis": {"orient": "left", "values": [0,50,100,150,200], "labelExpr": "datum.value % 200 === 0 ? '' + datum.value : ''", "tickSize": {"condition": {"test": "datum.value % 100 === 0", "value": 9.5}, "value": 5.5}, "labelPadding": 8, "title": "DPE intensity (counts)", "titleFontSize": 20, "titlePadding": 18}}}},
    {
      "resolve": {"scale": {"color": "independent"}},
      "encoding": {"x": {"field": "x", "type": "quantitative", "scale": {"domain": [-8.1, 17.3], "nice": false, "zero": false},
        "axis": {"orient": "bottom", "values": [-8,-7,-6,-5,-4,-3,-2,-1,0,1,2,3,4,5,6,7,8,9,10,11,12,13,14,15,16,17], "labelExpr": "datum.value % 5 === 0 ? '' + datum.value : ''", "tickSize": {"condition": {"test": "datum.value % 5 === 0", "value": 9}, "value": 5}, "labelPadding": 11,
          "title": "sum kinetic energy of photoelectron pair E", "titleX": -17.6, "titleY": 66, "titleAlign": "left", "titleBaseline": "alphabetic"}}},
      "layer": [
        {"data": {"name": "d_pts"}, "mark": {"type": "errorbar", "color": "#d4900f", "thickness": 2}, "encoding": {"y": {"field": "y", "type": "quantitative", "axis": null, "scale": {"domain": [-35, 220], "nice": false, "zero": false}}, "yError": {"field": "e"}}},
        {"data": {"name": "d_pts"}, "mark": {"type": "point", "shape": "circle", "filled": true, "size": 60, "color": "#d4900f", "opacity": 1}, "encoding": {"y": {"field": "y", "type": "quantitative", "axis": null}}},
        {"data": {"name": "d_vl"}, "mark": {"type": "rule", "strokeWidth": 3.5},
          "encoding": {"color": {"field": "k", "type": "nominal", "legend": null, "scale": {"domain": ["ddd","dd","sp","max","dddd"], "range": ["#a9a9a9","#0a14ff","#1fa3a3","#14a014","#707070"]}},
            "strokeDash": {"field": "k", "type": "nominal", "legend": null, "scale": {"domain": ["ddd","dd","sp","max","dddd"], "range": [[1,0],[1,0],[8,4],[9,4,3,4],[4,6]]}}}},
        {"data": {"name": "d_fit"}, "mark": {"type": "line", "color": "black", "strokeWidth": 3}, "encoding": {"y": {"field": "y", "type": "quantitative", "axis": null}}},
        {"data": {"name": "d_lab"},
          "encoding": {"y": {"field": "y", "type": "quantitative", "axis": null}, "color": {"field": "k", "type": "nominal", "legend": null, "scale": {"domain": ["ddd","dd","sp","max","dddd"], "range": ["#a9a9a9","#1f4e9a","#1fa3a3","#14a014","#555555"]}}},
          "layer": [
            {"mark": {"type": "text", "fontSize": 18}, "encoding": {"text": {"value": "E"}}},
            {"mark": {"type": "text", "fontSize": 14, "dx": 12.5, "dy": 3}, "encoding": {"text": {"value": "sum"}}},
            {"transform": [{"filter": "datum.k === 'dd' || datum.k === 'sp' || datum.k === 'dddd'"}], "mark": {"type": "text", "fontSize": 13, "fontStyle": "italic", "dx": 12.5, "dy": -11.5}, "encoding": {"text": {"field": "s"}}},
            {"transform": [{"filter": "datum.k === 'ddd' || datum.k === 'max'"}], "mark": {"type": "text", "fontSize": 13, "dx": 12.5, "dy": -11.5}, "encoding": {"text": {"field": "s"}}}
          ]},
        {"data": {"values": [{"x": -7.58, "y": 189, "t": "Cu(111)"}, {"x": -5.88, "y": 160, "t": "= 25.1 eV"}]}, "mark": {"type": "text", "fontSize": 19}, "encoding": {"y": {"field": "y", "type": "quantitative", "axis": null}, "text": {"field": "t"}}},
        {"data": {"values": [{"x": -7.58, "y": 160, "t": "hν"}]}, "mark": {"type": "text", "fontSize": 24, "font": "Liberation Serif", "fontStyle": "italic"}, "encoding": {"y": {"field": "y", "type": "quantitative", "axis": null}, "text": {"field": "t"}}},
        {"data": {"values": [{"x": -7.37, "y": -19, "t": "E"}, {"x": -5.4, "y": -19, "t": "= ± 20 eV"}]}, "mark": {"type": "text", "fontSize": 16}, "encoding": {"y": {"field": "y", "type": "quantitative", "axis": null}, "text": {"field": "t"}}},
        {"data": {"values": [{"x": -6.73, "y": -23, "t": "Diff"}]}, "mark": {"type": "text", "fontSize": 12}, "encoding": {"y": {"field": "y", "type": "quantitative", "axis": null}, "text": {"field": "t"}}}
      ]
    },
    {"data": {"values": [{"u": 0}]}, "mark": {"type": "point", "opacity": 0},
      "encoding": {
        "x": {"field": "u", "type": "quantitative", "scale": {"domain": [-2, 23.4], "reverse": true, "nice": false, "zero": false},
          "axis": {"orient": "top", "values": [-2,-1,0,1,2,3,4,5,6,7,8,9,10,11,12,13,14,15,16,17,18,19,20,21,22,23], "labelExpr": "datum.value % 5 === 0 ? '' + datum.value : ''", "tickSize": {"condition": {"test": "datum.value % 5 === 0", "value": 9}, "value": 5}, "labelPadding": 6,
            "title": "binding energy of of photoelectron pair E", "titleX": -17.6, "titleY": -56.7, "titleAlign": "left", "titleBaseline": "alphabetic"}},
        "y": {"field": "u", "type": "quantitative", "scale": {"domain": [-35, 220], "nice": false, "zero": false},
          "axis": {"orient": "right", "values": [0,50,100,150,200], "labels": false, "tickSize": {"condition": {"test": "datum.value % 100 === 0", "value": 9.5}, "value": 5.5}, "title": null}}}},
    {"data": {"values": [{"u": 0}]}, "mark": {"type": "point", "opacity": 0},
      "encoding": {
        "x": {"field": "u", "type": "quantitative", "scale": {"domain": [0, 1]}, "axis": {"orient": "top", "ticks": false, "labels": false, "domain": false, "title": "B,sum", "titleFontSize": 15, "titleX": 385, "titleY": -53.2, "titleAlign": "left", "titleBaseline": "alphabetic"}},
        "y": {"field": "u", "type": "quantitative", "axis": null}}},
    {"data": {"values": [{"u": 0}]}, "mark": {"type": "point", "opacity": 0},
      "encoding": {
        "x": {"field": "u", "type": "quantitative", "scale": {"domain": [0, 1]}, "axis": {"orient": "top", "ticks": false, "labels": false, "domain": false, "title": "(eV)", "titleX": 435.4, "titleY": -56.7, "titleAlign": "left", "titleBaseline": "alphabetic"}},
        "y": {"field": "u", "type": "quantitative", "axis": null}}},
    {"data": {"values": [{"u": 0}]}, "mark": {"type": "point", "opacity": 0},
      "encoding": {
        "x": {"field": "u", "type": "quantitative", "scale": {"domain": [0, 1]}, "axis": {"orient": "bottom", "ticks": false, "labels": false, "domain": false, "title": "sum", "titleFontSize": 15, "titleX": 398.7, "titleY": 69.5, "titleAlign": "left", "titleBaseline": "alphabetic"}},
        "y": {"field": "u", "type": "quantitative", "axis": null}}},
    {"data": {"values": [{"u": 0}]}, "mark": {"type": "point", "opacity": 0},
      "encoding": {
        "x": {"field": "u", "type": "quantitative", "scale": {"domain": [0, 1]}, "axis": {"orient": "bottom", "ticks": false, "labels": false, "domain": false, "title": "(eV)", "titleX": 434.4, "titleY": 66, "titleAlign": "left", "titleBaseline": "alphabetic"}},
        "y": {"field": "u", "type": "quantitative", "axis": null}}}
  ]
}
],
"columns": 2,
"spacing": {"row": 8, "column": 31},
"align": "none"
}
